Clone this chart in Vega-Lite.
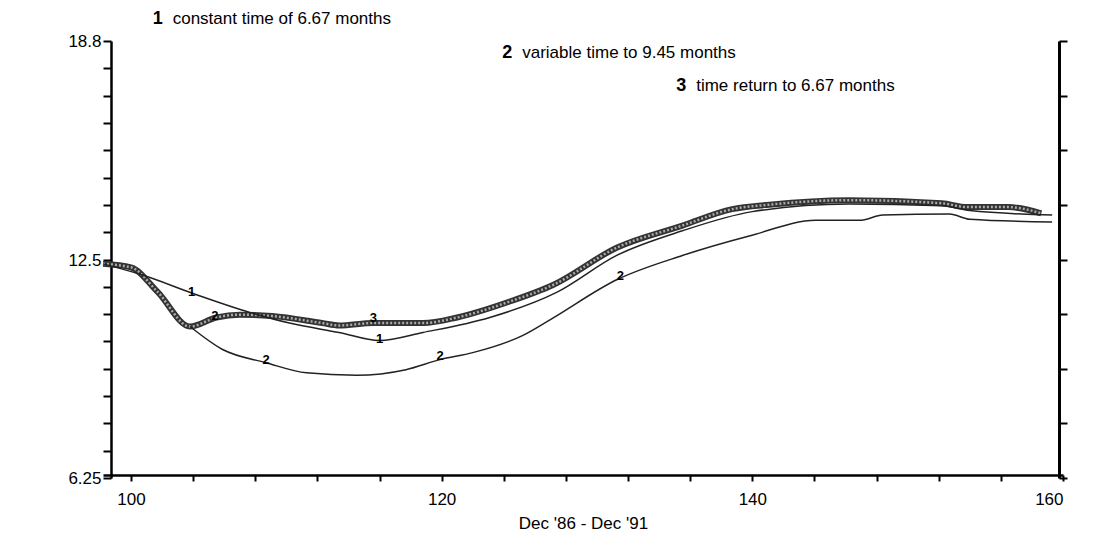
{
  "$schema": "https://vega.github.io/schema/vega-lite/v6.json",
  "width": 960,
  "height": 437,
  "autosize": "none",
  "padding": {"left": 103, "top": 41, "right": 44, "bottom": 78},
  "background": "white",
  "config": {"view": {"stroke": null}, "font": "Liberation Sans"},
  "datasets": {
    "lines": [
      {"s": "3", "x": 98.2, "y": 12.4}, {"s": "3", "x": 100, "y": 12.3}, {"s": "3", "x": 101.7, "y": 11.6}, {"s": "3", "x": 103.8, "y": 10.6},
      {"s": "3", "x": 105.5, "y": 10.86}, {"s": "3", "x": 107, "y": 10.94}, {"s": "3", "x": 109.1, "y": 10.9}, {"s": "3", "x": 112.3, "y": 10.7},
      {"s": "3", "x": 113.4, "y": 10.63}, {"s": "3", "x": 115.6, "y": 10.7}, {"s": "3", "x": 118.8, "y": 10.7}, {"s": "3", "x": 121, "y": 10.86},
      {"s": "3", "x": 124.2, "y": 11.29}, {"s": "3", "x": 127.2, "y": 11.8}, {"s": "3", "x": 131.3, "y": 12.87}, {"s": "3", "x": 135.5, "y": 13.5},
      {"s": "3", "x": 138.7, "y": 13.97}, {"s": "3", "x": 141.1, "y": 14.1}, {"s": "3", "x": 146.2, "y": 14.23}, {"s": "3", "x": 152.2, "y": 14.14},
      {"s": "3", "x": 153.8, "y": 14.03}, {"s": "3", "x": 156.5, "y": 14.03}, {"s": "3", "x": 158.6, "y": 13.85},
      {"s": "1", "x": 98.2, "y": 12.4}, {"s": "1", "x": 100.6, "y": 12.1}, {"s": "1", "x": 104, "y": 11.55}, {"s": "1", "x": 107.7, "y": 11.0},
      {"s": "1", "x": 110.2, "y": 10.7}, {"s": "1", "x": 113.4, "y": 10.43}, {"s": "1", "x": 116, "y": 10.2}, {"s": "1", "x": 118.8, "y": 10.43},
      {"s": "1", "x": 123.1, "y": 10.86}, {"s": "1", "x": 127.4, "y": 11.58}, {"s": "1", "x": 131.3, "y": 12.65}, {"s": "1", "x": 135.5, "y": 13.35},
      {"s": "1", "x": 140, "y": 13.9}, {"s": "1", "x": 146.2, "y": 14.12}, {"s": "1", "x": 152.2, "y": 14.07}, {"s": "1", "x": 154, "y": 13.93},
      {"s": "1", "x": 159.3, "y": 13.8},
      {"s": "2", "x": 103.8, "y": 10.6}, {"s": "2", "x": 105.9, "y": 9.94}, {"s": "2", "x": 108.7, "y": 9.56}, {"s": "2", "x": 111.3, "y": 9.27},
      {"s": "2", "x": 114.5, "y": 9.2}, {"s": "2", "x": 117.7, "y": 9.36}, {"s": "2", "x": 119.9, "y": 9.65}, {"s": "2", "x": 122, "y": 9.85},
      {"s": "2", "x": 125.2, "y": 10.34}, {"s": "2", "x": 127, "y": 10.8}, {"s": "2", "x": 131.3, "y": 11.95}, {"s": "2", "x": 135.5, "y": 12.64},
      {"s": "2", "x": 139.8, "y": 13.2}, {"s": "2", "x": 144.1, "y": 13.65}, {"s": "2", "x": 146.9, "y": 13.65}, {"s": "2", "x": 148.4, "y": 13.8},
      {"s": "2", "x": 152.7, "y": 13.83}, {"s": "2", "x": 154, "y": 13.68}, {"s": "2", "x": 159.3, "y": 13.6}
    ],
    "marks": [
      {"t": "1", "x": 103.9, "y": 11.6}, {"t": "1", "x": 116, "y": 10.25}, {"t": "2", "x": 105.4, "y": 10.9},
      {"t": "2", "x": 108.7, "y": 9.65}, {"t": "2", "x": 119.9, "y": 9.75}, {"t": "2", "x": 131.5, "y": 12.05}, {"t": "3", "x": 115.6, "y": 10.85}
    ],
    "notes": [
      {"n": "1", "t": "constant time of 6.67 months", "x": 101.4, "y": 19.42},
      {"n": "2", "t": "variable time to 9.45 months", "x": 123.9, "y": 18.45},
      {"n": "3", "t": "time return to 6.67 months", "x": 135.1, "y": 17.5}
    ]
  },
  "layer": [
    {
      "data": {"name": "lines"},
      "transform": [{"filter": "datum.s == '3'"}],
      "mark": {"type": "line", "stroke": "#333", "strokeWidth": 6, "interpolate": "monotone"},
      "encoding": {
        "x": {"field": "x", "type": "quantitative", "scale": {"domain": [98.2, 160], "nice": false, "zero": false},
          "axis": {"values": [98, 100, 102, 104, 106, 108, 110, 112, 114, 116, 118, 120, 122, 124, 126, 128, 130, 132, 134, 136, 138, 140, 142, 144, 146, 148, 150, 152, 154, 156, 158, 160],
            "labelExpr": "datum.value % 20 == 0 ? datum.label : ''", "grid": false, "domainColor": "black", "domainWidth": 2.5, "tickColor": "black", "tickWidth": 2, "tickSize": 6, "offset": -3,
            "labelFontSize": 17, "labelColor": "black", "labelPadding": 10, "title": "Dec '86 - Dec '91", "titleFontSize": 17, "titleFontWeight": "normal", "titleColor": "black", "titlePadding": 8}},
        "y": {"field": "y", "type": "quantitative", "scale": {"domain": [6.25, 18.8], "nice": false, "zero": false},
          "axis": {"values": [6.25, 7.034, 7.819, 8.603, 9.388, 10.172, 10.956, 11.741, 12.5, 13.309, 14.094, 14.878, 15.663, 16.447, 17.231, 18.016, 18.8],
            "labelExpr": "datum.value == 6.25 ? '6.25' : datum.value == 12.5 ? '12.5' : datum.value == 18.8 ? '18.8' : ''", "grid": false,
            "domainColor": "black", "domainWidth": 2.5, "tickColor": "black", "tickWidth": 2, "tickSize": 8, "offset": -8, "labelFontSize": 17, "labelColor": "black", "labelPadding": 2, "title": null}}
      }
    },
    {
      "data": {"name": "lines"},
      "transform": [{"filter": "datum.s == '3'"}],
      "mark": {"type": "line", "stroke": "#aaa", "strokeWidth": 2.5, "strokeDash": [2, 2], "interpolate": "monotone"},
      "encoding": {"x": {"field": "x", "type": "quantitative"}, "y": {"field": "y", "type": "quantitative", "axis": null}}
    },
    {
      "data": {"name": "lines"},
      "transform": [{"filter": "datum.s != '3'"}],
      "mark": {"type": "line", "stroke": "#222", "strokeWidth": 1.5, "interpolate": "monotone"},
      "encoding": {"x": {"field": "x", "type": "quantitative"}, "y": {"field": "y", "type": "quantitative", "axis": null}, "detail": {"field": "s"}}
    },
    {
      "data": {"name": "lines"},
      "transform": [{"filter": "datum.s == '3'"}],
      "mark": {"type": "line", "strokeOpacity": 0},
      "encoding": {"x": {"field": "x", "type": "quantitative"},
        "y": {"field": "y", "type": "quantitative", "axis": {"orient": "right", "values": [6.25, 7.819, 9.388, 10.956, 12.5, 14.094, 15.663, 17.231, 18.8], "labels": false,
          "domainColor": "black", "domainWidth": 3, "tickColor": "black", "tickWidth": 2, "tickSize": 8, "offset": -4, "title": null, "grid": false}}}
    },
    {
      "data": {"name": "marks"},
      "mark": {"type": "text", "fontSize": 13, "fontWeight": "bold", "color": "black"},
      "encoding": {"x": {"field": "x", "type": "quantitative"}, "y": {"field": "y", "type": "quantitative", "axis": null}, "text": {"field": "t"}}
    },
    {
      "data": {"name": "notes"},
      "mark": {"type": "text", "fontSize": 18, "fontWeight": "bold", "align": "left", "color": "black"},
      "encoding": {"x": {"field": "x", "type": "quantitative"}, "y": {"field": "y", "type": "quantitative", "axis": null}, "text": {"field": "n"}}
    },
    {
      "data": {"name": "notes"},
      "mark": {"type": "text", "fontSize": 17, "align": "left", "dx": 20, "color": "black"},
      "encoding": {"x": {"field": "x", "type": "quantitative"}, "y": {"field": "y", "type": "quantitative", "axis": null}, "text": {"field": "t"}}
    }
  ],
  "resolve": {"axis": {"y": "independent"}}
}
